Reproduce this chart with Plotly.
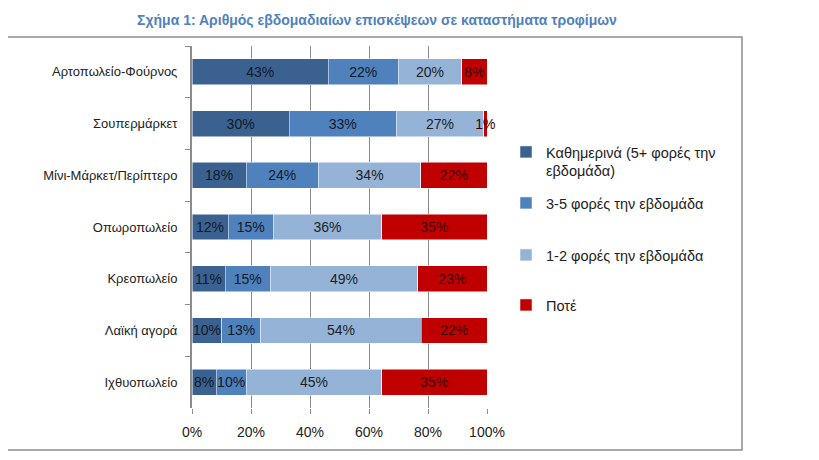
import plotly.graph_objects as go

stores = ['Αρτοπωλείο-Φούρνος', 'Σουπερμάρκετ', 'Μίνι-Μάρκετ/Περίπτερο', 'Οπωροπωλείο',
          'Κρεοπωλείο', 'Λαϊκή αγορά', 'Ιχθυοπωλείο']

daily = [43, 30, 18, 12, 11, 10, 8]
three_five = [22, 33, 24, 15, 15, 13, 10]
one_two = [20, 27, 34, 36, 49, 54, 45]
never = [8, 1, 22, 35, 23, 22, 35]

series = [
    ('Καθημερινά (5+ φορές την<br>εβδομάδα)', daily, '#3B6190', '#111a26'),
    ('3-5 φορές την εβδομάδα', three_five, '#4F81BD', '#111a26'),
    ('1-2 φορές την εβδομάδα', one_two, '#95B3D7', '#1a1f26'),
    ('Ποτέ', never, '#C00000', '#3a0000'),
]

x_ticks = [0, 20, 40, 60, 80, 100]
x_labels = ['0%', '20%', '40%', '60%', '80%', '100%']

font = 'Liberation Sans, Arial, sans-serif'

# the page body adds an 8px margin, so work in page pixels minus 8
OFF = 8
W, H = 819 - OFF, 460 - OFF
PL, PR, PT, PB = 192 - OFF, 487 - OFF, 46 - OFF, 408 - OFF
pw, ph = PR - PL, PB - PT

legend_rows = [152, 203, 255, 305]

fig = go.Figure()
for i, (name, vals, color, txt) in enumerate(series):
    fig.add_trace(go.Bar(
        y=stores, x=vals, name=name, orientation='h',
        marker=dict(color=color, line=dict(color='white', width=0.5)),
        text=[f'{v}%' for v in vals], textposition='inside', textangle=0,
        insidetextanchor='middle', constraintext='none',
        cliponaxis=(i != len(series) - 1),
        textfont=dict(family=font, size=14, color=txt),
        legend='legend' if i == 0 else f'legend{i + 1}',
    ))

legends = {}
for i, row in enumerate(legend_rows):
    key = 'legend' if i == 0 else f'legend{i + 1}'
    legends[key] = dict(x=(506 - OFF - PL) / pw, xanchor='left',
                        y=(PB - (row - OFF - 16)) / ph, yanchor='top',
                        valign='top', itemwidth=30, bgcolor='rgba(0,0,0,0)',
                        font=dict(family=font, size=14.5, color='#222222'))

fig.update_layout(
    width=W, height=H,
    barmode='stack', barnorm='percent', bargap=0.5,
    paper_bgcolor='white', plot_bgcolor='white',
    margin=dict(l=PL, r=W - PR, t=PT, b=H - PB),
    font=dict(family=font, size=14, color='#222222'),
    uniformtext=dict(minsize=14, mode='show'),
    title=dict(text='<b>Σχήμα 1: Αριθμός εβδομαδιαίων επισκέψεων σε καταστήματα τροφίμων</b>',
               x=(377 - OFF) / W, xanchor='center', y=1 - 7 / H, yanchor='top',
               font=dict(family=font, size=14, color='#4F81BD')),
    showlegend=True,
    **legends,
)

# tiny headroom so normalised sums like 100.0000001 are not treated as off-axis
fig.update_xaxes(range=[0, 100.001], tickvals=x_ticks, ticktext=x_labels,
                 showgrid=True, gridcolor='#8c8c8c', gridwidth=1,
                 ticks='outside', ticklen=5, tickcolor='#8c8c8c',
                 showline=False, zeroline=False, automargin=False, ticklabelstandoff=6,
                 tickfont=dict(family=font, size=14, color='#222222'))
fig.update_yaxes(autorange='reversed', ticks='outside', tickson='boundaries',
                 ticklen=5, tickcolor='#8c8c8c', showline=True, linecolor='#8c8c8c',
                 linewidth=2, showgrid=False, automargin=False, ticklabelstandoff=10,
                 tickfont=dict(family=font, size=13, color='#222222'))

# outer frame of the chart
fig.add_shape(type='rect', xref='paper', yref='paper',
              x0=(6 - OFF - PL) / pw, x1=(742 - OFF - PL) / pw,
              y0=(PB - (450 - OFF)) / ph, y1=(PB - (37 - OFF)) / ph,
              line=dict(color='#8c8c8c', width=1.5), fillcolor='rgba(0,0,0,0)')

fig.write_html('out.html')
